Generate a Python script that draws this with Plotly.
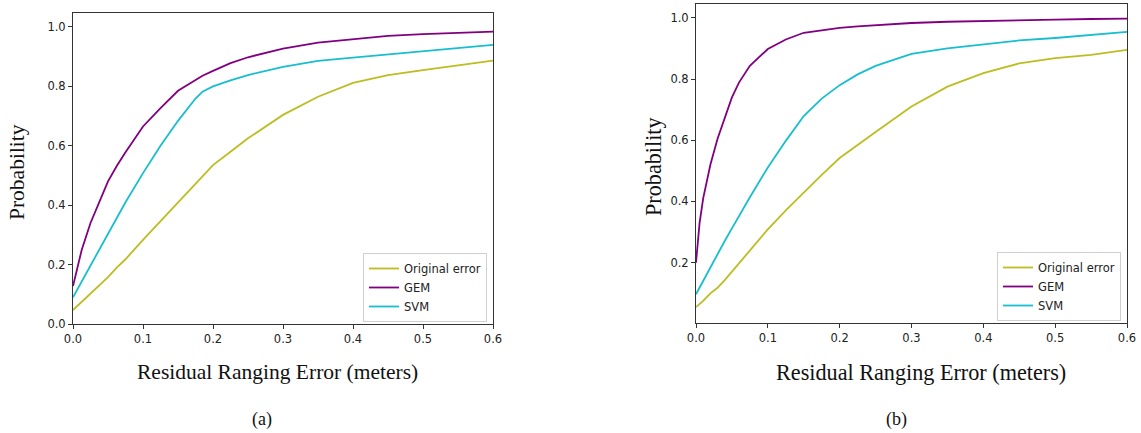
import plotly.graph_objects as go

# ---------------- data ----------------
x_a = [0, 0.0125, 0.025, 0.0375, 0.05, 0.0625, 0.075, 0.1, 0.125, 0.15, 0.175, 0.185,
       0.2, 0.225, 0.25, 0.3, 0.35, 0.4, 0.45, 0.5, 0.55, 0.6]
orig_a = [0.047, 0.075, 0.103, 0.132, 0.158, 0.190, 0.218, 0.283, 0.346, 0.408, 0.473, 0.497,
          0.535, 0.580, 0.625, 0.704, 0.765, 0.812, 0.838, 0.855, 0.872, 0.887]
gem_a = [0.128, 0.250, 0.340, 0.410, 0.480, 0.532, 0.578, 0.665, 0.727, 0.785, 0.823, 0.836,
         0.852, 0.878, 0.898, 0.927, 0.947, 0.959, 0.970, 0.976, 0.980, 0.984]
svm_a = [0.090, 0.143, 0.197, 0.248, 0.300, 0.352, 0.410, 0.508, 0.600, 0.684, 0.759, 0.782,
         0.800, 0.820, 0.838, 0.866, 0.886, 0.897, 0.908, 0.920, 0.930, 0.940]

x_b = [0, 0.005, 0.01, 0.02, 0.03, 0.04, 0.05, 0.06, 0.075, 0.1, 0.125, 0.15, 0.175, 0.2, 0.225,
       0.25, 0.3, 0.35, 0.4, 0.45, 0.5, 0.55, 0.6]
orig_b = [0.055, 0.065, 0.075, 0.100, 0.118, 0.143, 0.171, 0.199, 0.241, 0.309, 0.371, 0.430,
          0.487, 0.542, 0.585, 0.627, 0.710, 0.775, 0.819, 0.851, 0.868, 0.879, 0.895]
gem_b = [0.200, 0.330, 0.410, 0.520, 0.605, 0.674, 0.740, 0.789, 0.843, 0.898, 0.929, 0.951,
         0.960, 0.967, 0.972, 0.976, 0.983, 0.987, 0.990, 0.992, 0.994, 0.996, 0.997]
svm_b = [0.097, 0.119, 0.141, 0.185, 0.230, 0.271, 0.312, 0.353, 0.414, 0.511, 0.598, 0.679,
         0.736, 0.780, 0.815, 0.843, 0.882, 0.900, 0.914, 0.926, 0.934, 0.944, 0.954]

series_names = ["Original error", "GEM", "SVM"]
colors = ["#bcbd22", "#800080", "#17becf"]

x_ticks = [0.0, 0.1, 0.2, 0.3, 0.4, 0.5, 0.6]
y_ticks_a = [0.0, 0.2, 0.4, 0.6, 0.8, 1.0]
y_ticks_b = [0.2, 0.4, 0.6, 0.8, 1.0]

x_title = "Residual Ranging Error (meters)"
y_title = "Probability"
panel_labels = ["(a)", "(b)"]

# ---------------- figure ----------------
W, H = 1141, 433
fig = go.Figure()

for name, col, ys in zip(series_names, colors, [orig_a, gem_a, svm_a]):
    fig.add_trace(go.Scatter(x=x_a, y=ys, mode="lines", name=name,
                             line=dict(color=col, width=1.8),
                             xaxis="x", yaxis="y", legend="legend"))
for name, col, ys in zip(series_names, colors, [orig_b, gem_b, svm_b]):
    fig.add_trace(go.Scatter(x=x_b, y=ys, mode="lines", name=name,
                             line=dict(color=col, width=1.8),
                             xaxis="x2", yaxis="y2", legend="legend2"))

tickfont = dict(family="DejaVu Sans", size=11.5, color="#222")
ax_common = dict(showgrid=False, zeroline=False, showline=True, mirror=True,
                 linecolor="#333", linewidth=1, ticks="outside", ticklen=4,
                 tickwidth=1, tickcolor="#333", tickfont=tickfont, automargin=False)

def px_x(p):
    return p / W

def px_y(p):
    return 1 - p / H

legend_font = dict(family="DejaVu Sans", size=11.5, color="#222")

fig.update_layout(
    width=W, height=H,
    margin=dict(l=0, r=0, t=0, b=0, pad=0),
    paper_bgcolor="white", plot_bgcolor="white",
    xaxis=dict(domain=[px_x(73), px_x(493)], range=[0, 0.6], tickvals=x_ticks,
               ticktext=[f"{v:.1f}" for v in x_ticks], anchor="y", **ax_common),
    yaxis=dict(domain=[px_y(324), px_y(13)], range=[0, 1.047], tickvals=y_ticks_a,
               ticktext=[f"{v:.1f}" for v in y_ticks_a], anchor="x", **ax_common),
    xaxis2=dict(domain=[px_x(696), px_x(1127)], range=[0, 0.6], tickvals=x_ticks,
                ticktext=[f"{v:.1f}" for v in x_ticks], anchor="y2", **ax_common),
    yaxis2=dict(domain=[px_y(323), px_y(4)], range=[0.003, 1.045], tickvals=y_ticks_b,
                ticktext=[f"{v:.1f}" for v in y_ticks_b], anchor="x2", **ax_common),
    legend=dict(x=px_x(487), y=px_y(322), xanchor="right", yanchor="bottom",
                bgcolor="white", bordercolor="#d0d0d0", borderwidth=1,
                font=legend_font, itemwidth=30, tracegroupgap=0),
    legend2=dict(x=px_x(1121), y=px_y(321), xanchor="right", yanchor="bottom",
                 bgcolor="white", bordercolor="#d0d0d0", borderwidth=1,
                 font=legend_font, itemwidth=30, tracegroupgap=0),
    showlegend=True,
)

serif = "Liberation Serif"
annos = [
    dict(text=y_title, x=px_x(17), y=px_y(172), textangle=-90,
         font=dict(family=serif, size=21.5, color="#111")),
    dict(text=y_title, x=px_x(653), y=px_y(167), textangle=-90,
         font=dict(family=serif, size=22.2, color="#111")),
    dict(text=x_title, x=px_x(277), y=px_y(372),
         font=dict(family=serif, size=21.5, color="#111")),
    dict(text=x_title, x=px_x(921), y=px_y(372),
         font=dict(family=serif, size=22.2, color="#111")),
    dict(text=panel_labels[0], x=px_x(262), y=px_y(419),
         font=dict(family=serif, size=18, color="#111")),
    dict(text=panel_labels[1], x=px_x(897), y=px_y(419),
         font=dict(family=serif, size=18, color="#111")),
]
for a in annos:
    fig.add_annotation(xref="paper", yref="paper", showarrow=False,
                       xanchor="center", yanchor="middle", **a)

# remove the default 8px page margin so the figure sits at the window's corner
fig.write_html("out.html",
               config={"displayModeBar": False},
               post_script="document.body.style.margin='0';document.body.style.overflow='hidden';")
